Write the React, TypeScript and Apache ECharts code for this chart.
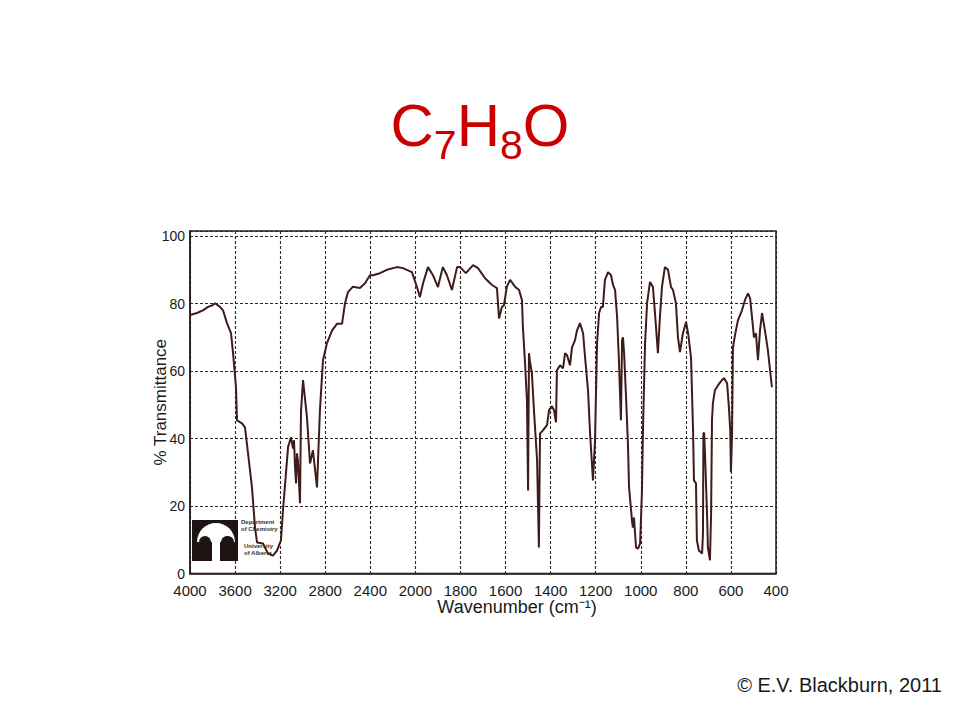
import React, { useEffect, useRef } from "react";
import * as echarts from "echarts";

// Tick labels of the (piecewise-linear) IR wavenumber axis
const X_TICKS = [4000, 3600, 3200, 2800, 2400, 2000, 1800, 1600, 1400, 1200, 1000, 800, 600, 400];
const Y_TICKS = [0, 20, 40, 60, 80, 100];

// Spectrum
const WAVENUMBERS = [
  4000, 3938, 3885, 3840, 3800, 3778, 3734, 3707, 3672, 3636, 3618, 3592, 3583, 3539, 3512, 3485,
  3450, 3423, 3405, 3352, 3308, 3264, 3228, 3193, 3175, 3130, 3104, 3086, 3077, 3068, 3059, 3051,
  3042, 3024, 3015, 2997, 2962, 2935, 2909, 2873, 2847, 2820, 2785, 2740, 2696, 2651, 2625, 2598,
  2554, 2492, 2447, 2403, 2377, 2315, 2253, 2164, 2111, 2031, 1993, 1980, 1966, 1944, 1922, 1900,
  1878, 1860, 1838, 1815, 1802, 1776, 1744, 1722, 1691, 1660, 1638, 1629, 1616, 1607, 1594, 1580,
  1558, 1540, 1527, 1523, 1514, 1505, 1500, 1496, 1492, 1483, 1474, 1460, 1452, 1447, 1434, 1416,
  1407, 1394, 1385, 1376, 1372, 1358, 1345, 1336, 1327, 1314, 1305, 1292, 1283, 1270, 1256, 1247,
  1234, 1225, 1212, 1203, 1194, 1185, 1176, 1168, 1159, 1145, 1132, 1123, 1114, 1105, 1097, 1088,
  1083, 1079, 1074, 1066, 1057, 1052, 1039, 1035, 1030, 1021, 1012, 1003, 995, 990, 981, 972,
  959, 946, 937, 928, 924, 915, 906, 893, 879, 866, 857, 844, 835, 826, 813, 799,
  790, 777, 768, 764, 755, 751, 742, 728, 724, 722, 719, 715, 706, 702, 693, 688,
  684, 680, 671, 657, 640, 631, 617, 609, 603, 600, 595, 591, 582, 569, 551, 538,
  524, 515, 502, 498, 489, 480, 471, 462, 449, 436, 418,
];
const TRANSMITTANCE = [
  76.6, 77.2, 78, 79, 79.5, 80.1, 79, 78, 74.2, 71.2, 65.3, 55.2, 45.4, 44.5, 43.3, 35.6,
  25.5, 13.6, 9.2, 8.9, 5.9, 5.3, 6.8, 9.8, 18.7, 37.4, 40.4, 37, 39.5, 31.5, 26.7, 35.6,
  33.5, 20.8, 48, 57.3, 46.3, 32.6, 36.5, 25.5, 48.4, 63.2, 68.2, 72, 74, 74, 80, 83.4,
  85, 84.6, 86, 88.4, 88.4, 89, 90, 90.8, 90.5, 89.3, 84.9, 81.9, 86, 90.8, 88.4, 84.9,
  90.8, 88.4, 84, 90.8, 90.8, 89, 91.4, 90.5, 87.5, 85.5, 84.6, 75.6, 79, 79.5, 85, 87,
  85, 84, 81, 73, 63, 51.3, 24.6, 65.3, 63, 59.3, 48.4, 33.5, 7.7, 41.5, 42.4, 44,
  48.4, 49.6, 48.4, 44.8, 60.2, 61.7, 60.8, 65.3, 64.7, 61.7, 67, 69.1, 72, 74.2, 71.2, 64,
  54.3, 41.5, 27.6, 39.5, 68.2, 77.2, 79, 79, 87, 89.3, 88.4, 85.5, 84, 76, 63.2, 45.4,
  69.1, 70, 65.3, 53.4, 38.6, 25.5, 15.7, 13.6, 16.6, 7.7, 7.4, 8.9, 23.7, 43.3, 68.2, 80.1,
  86.4, 84.9, 77.2, 69.1, 65.3, 76, 84.9, 90.8, 90, 84.9, 84, 80.1, 70, 65.6, 71.2, 74.5,
  71.2, 64, 42.4, 27.6, 26.7, 9.8, 6.8, 5.9, 11.9, 41.5, 41.8, 35.6, 17.8, 7.7, 3.9, 17.8,
  45.4, 50.4, 54.3, 55.8, 57.3, 57.9, 56.4, 49.3, 42.4, 30, 41.5, 67, 70.6, 75, 78, 81,
  83, 81.6, 73, 70, 71.2, 63.2, 72, 77.2, 72, 66.2, 55.2,
];

// IR charts change scale at 2000 cm-1: 400 cm-1 per division above, 200 below
function toPos(w: number): number {
  return w >= 2000 ? (4000 - w) / 400 : 5 + (2000 - w) / 200;
}

const FONT = "Liberation Sans, Arial, sans-serif";

export default function App() {
  const ref = useRef<HTMLDivElement>(null);

  useEffect(() => {
    if (!ref.current) return;
    const chart = echarts.init(ref.current, undefined, { renderer: "svg" });
    const data = WAVENUMBERS.map((w, i) => [toPos(w), TRANSMITTANCE[i]]);
    const gridLine = { show: true, lineStyle: { color: "#2e2424", type: [3, 2] as any, width: 1.1 } };
    const logoText = (text: string, x: number, y: number) => ({
      type: "text",
      x,
      y,
      z: 6,
      style: { text, fontFamily: FONT, fontSize: 6, fontWeight: "bold", fill: "#333", textVerticalAlign: "middle" },
    });

    chart.setOption({
      animation: false,
      backgroundColor: "#ffffff",
      grid: {
        left: 190,
        right: 184,
        top: 231,
        bottom: 146.5,
        show: true,
        borderColor: "#2a1a1a",
        borderWidth: 1.5,
        containLabel: false,
      },
      xAxis: {
        type: "value",
        min: 0,
        max: X_TICKS.length - 1,
        interval: 1,
        name: "Wavenumber (cm\u207B\u00B9)",
        nameLocation: "middle",
        nameGap: 24,
        nameTextStyle: { fontFamily: FONT, fontSize: 18, color: "#1a1a1a", padding: [0, 0, 0, 68] },
        axisLine: { show: true, lineStyle: { color: "#2a1a1a", width: 1.5 } },
        axisTick: { show: false },
        axisLabel: {
          fontFamily: FONT,
          fontSize: 15,
          color: "#1a1a1a",
          margin: 9,
          formatter: (v: number) => {
            const t = X_TICKS[Math.round(v)];
            return t === undefined ? "" : String(t);
          },
        },
        splitLine: gridLine,
      },
      yAxis: {
        type: "value",
        min: 0,
        max: 101.5,
        interval: 20,
        name: "% Transmittance",
        nameLocation: "middle",
        nameGap: 21,
        nameMoveOverlap: false,
        nameTextStyle: { fontFamily: FONT, fontSize: 17, color: "#1a1a1a" },
        axisLine: { show: true, lineStyle: { color: "#2a1a1a", width: 1.5 } },
        axisTick: { show: false },
        axisLabel: {
          fontFamily: FONT,
          fontSize: 14,
          color: "#1a1a1a",
          margin: 5,
          formatter: (v: number) => (Y_TICKS.indexOf(v) >= 0 ? String(v) : ""),
        },
        splitLine: gridLine,
      },
      graphic: [
        // title C7H8O (subscripts via rich text)
        {
          type: "text",
          x: 480,
          y: 95,
          style: {
            text: "{m|C}{s|7}{m|H}{s|8}{m|O}",
            textAlign: "center",
            textVerticalAlign: "top",
            rich: {
              m: { fontFamily: FONT, fontSize: 60, lineHeight: 70, verticalAlign: "top", fill: "#cc0000" },
              s: { fontFamily: FONT, fontSize: 41, lineHeight: 41, verticalAlign: "bottom", fill: "#cc0000" },
            },
          },
        },
        // copyright
        {
          type: "text",
          x: 942,
          y: 685,
          style: { text: "\u00A9 E.V. Blackburn, 2011", fontFamily: FONT, fontSize: 20, fill: "#1a1a1a", textAlign: "right", textVerticalAlign: "middle" },
        },
        // University of Alberta logo
        { type: "rect", shape: { x: 192, y: 520, width: 46, height: 41 }, style: { fill: "#1e1414" }, z: 5 },
        { type: "sector", shape: { cx: 216, cy: 542, r: 19, startAngle: Math.PI, endAngle: 2 * Math.PI }, style: { fill: "#ffffff" }, z: 6 },
        { type: "rect", shape: { x: 212, y: 536, width: 8, height: 25 }, style: { fill: "#ffffff" }, z: 6 },
        { type: "rect", shape: { x: 199, y: 536, width: 12, height: 22, r: [6, 6, 0, 0] }, style: { fill: "#1e1414" }, z: 7 },
        { type: "rect", shape: { x: 221, y: 536, width: 13, height: 22, r: [6, 6, 0, 0] }, style: { fill: "#1e1414" }, z: 7 },
        logoText("Department", 241, 522),
        logoText("of Chemistry", 241, 529),
        logoText("University", 244, 546),
        logoText("of Alberta", 244, 553),
      ],
      series: [
        {
          type: "line",
          data,
          showSymbol: false,
          symbol: "none",
          z: 10,
          lineStyle: { color: "#3f1c1c", width: 2 },
        },
      ],
    });

    return () => chart.dispose();
  }, []);

  return (
    <div
      ref={ref}
      style={{ position: "fixed", left: 0, top: 0, width: 960, height: 720, background: "#fff" }}
    />
  );
}
